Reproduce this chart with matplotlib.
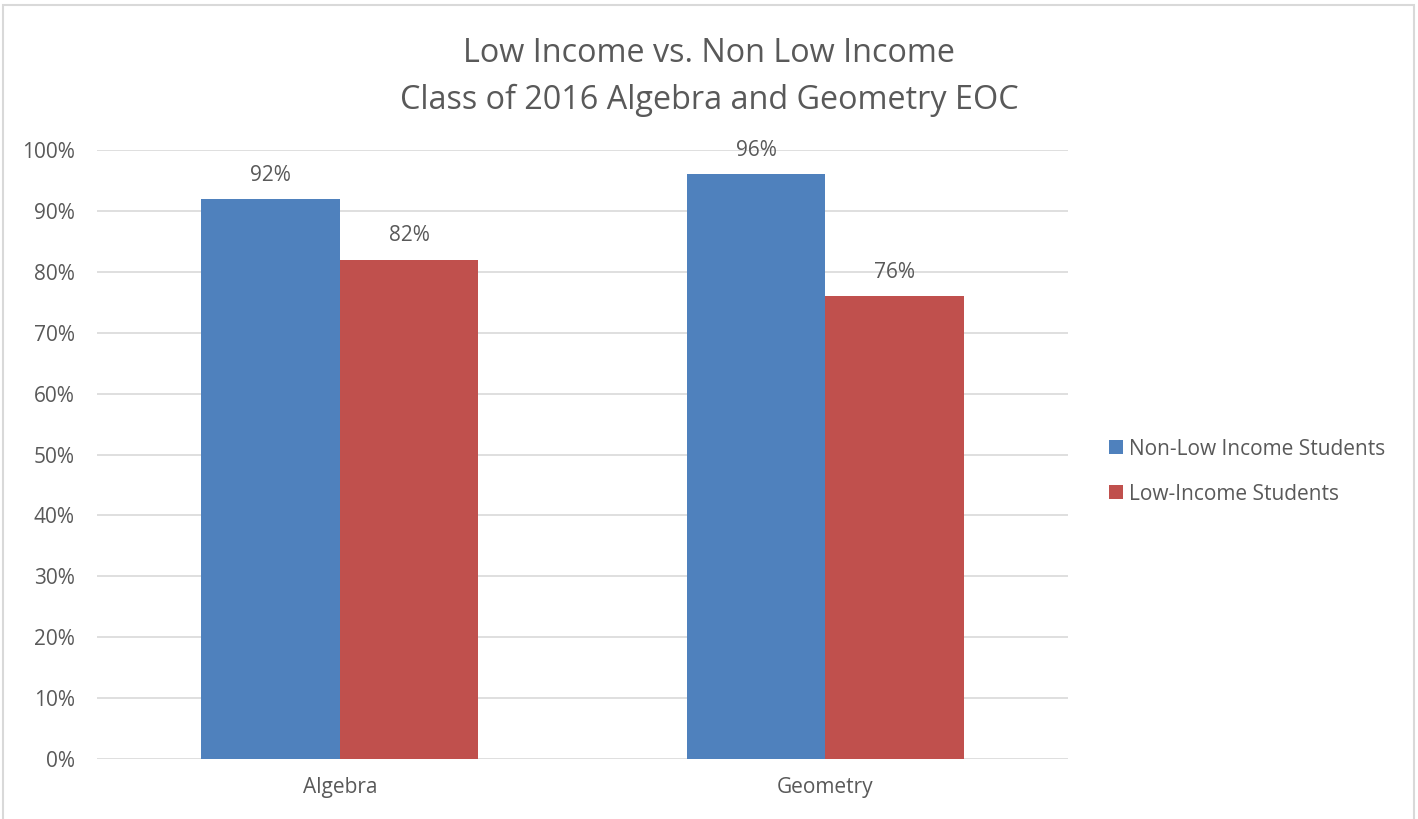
import matplotlib.pyplot as plt
import numpy as np
from matplotlib.patches import Rectangle

plt.rcParams['font.family'] = ['Open Sans', 'DejaVu Sans']

# EOC pass rates by subject
subjects = ["Algebra", "Geometry"]
non_low_income = [92, 96]
low_income = [82, 76]
series_names = ["Non-Low Income Students", "Low-Income Students"]

text_color = "#595959"
blue = "#4f81bd"
red = "#c0504d"

fig = plt.figure(figsize=(14.18, 8.19), dpi=100)
ax = fig.add_axes([0.0684, 0.0733, 0.6848, 0.7435])

x = np.arange(len(subjects))
w = 0.285
b1 = ax.bar(x - w / 2, non_low_income, w, color=blue, zorder=3, label=series_names[0])
b2 = ax.bar(x + w / 2, low_income, w, color=red, zorder=3, label=series_names[1])

for bars, vals in [(b1, non_low_income), (b2, low_income)]:
    for rect, v in zip(bars, vals):
        ax.text(rect.get_x() + rect.get_width() / 2, v + 3.9, f"{v}%",
                ha="center", va="center", fontsize=15, color=text_color)

ax.set_xlim(-0.5, 1.5)
ax.set_ylim(0, 100)
ax.set_yticks(range(0, 101, 10))
ax.set_yticklabels([f"{t}%" for t in range(0, 101, 10)])
ax.set_xticks(x)
ax.set_xticklabels(subjects)
ax.tick_params(axis="both", length=0, labelsize=15, labelcolor=text_color)
ax.tick_params(axis="y", pad=16)
ax.tick_params(axis="x", pad=13)
ax.grid(axis="y", color="#d9d9d9", linewidth=1.2, zorder=0)
for s in ax.spines.values():
    s.set_visible(False)

fig.text(0.5, 0.906, "Low Income vs. Non Low Income\nClass of 2016 Algebra and Geometry EOC",
         ha="center", va="center", fontsize=23.3, color=text_color, linespacing=1.52)

fig.legend(handles=[b1, b2], labels=series_names, loc="center left",
           bbox_to_anchor=(0.769, 0.424), frameon=False, fontsize=15,
           labelcolor=text_color, handlelength=0.65, handleheight=0.65,
           handletextpad=0.3, labelspacing=1.15)

# outer chart border
fig.add_artist(Rectangle((0.002, -0.01), 0.995, 1.004, transform=fig.transFigure,
                         fill=False, edgecolor="#d9d9d9", linewidth=1.5))

fig.savefig("out.png", dpi=100, facecolor="white")
